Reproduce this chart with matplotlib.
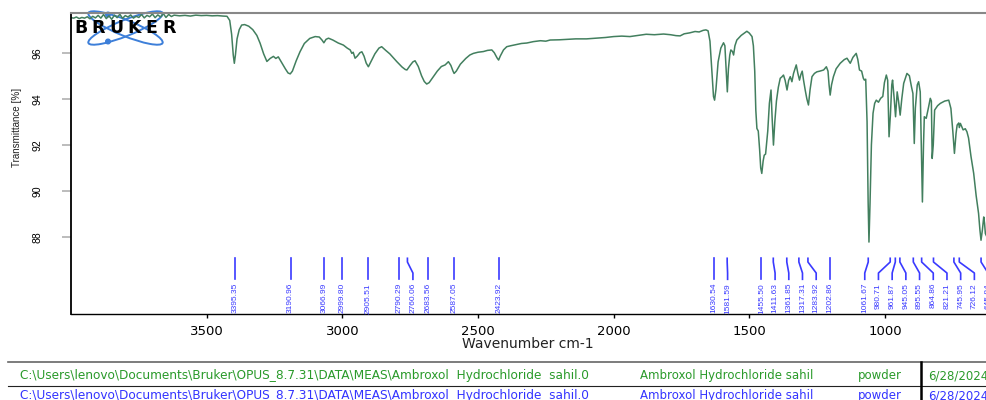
import matplotlib
matplotlib.use("Agg")
import matplotlib.pyplot as plt
import matplotlib.transforms as mtransforms
from matplotlib.patches import Ellipse, Circle
from matplotlib.lines import Line2D
from matplotlib import font_manager as fm

# ---------------- data ----------------
wavenumber = [
    4000, 3990, 3980, 3970, 3960, 3950, 3940, 3930, 3920, 3910, 3900, 3890, 3880, 3870,
    3860, 3850, 3840, 3830, 3820, 3810, 3800, 3790, 3780, 3770, 3760, 3750, 3740, 3730,
    3720, 3710, 3700, 3690, 3680, 3670, 3660, 3650, 3640, 3630, 3620, 3600, 3580, 3560,
    3540, 3520, 3500, 3480, 3460, 3440, 3425, 3415, 3408, 3402, 3398, 3394, 3388, 3380,
    3371, 3360, 3345, 3330, 3315, 3303, 3290, 3278, 3266, 3254, 3245, 3236, 3225, 3210,
    3200, 3192, 3184, 3170, 3156, 3140, 3120, 3100, 3085, 3075, 3068, 3060, 3051, 3035,
    3015, 2996, 2982, 2971, 2965, 2960, 2953, 2945, 2935, 2928, 2920, 2912, 2904, 2895,
    2880, 2865, 2855, 2840, 2825, 2810, 2799, 2790, 2780, 2768, 2762, 2750, 2740, 2732,
    2720, 2708, 2698, 2689, 2680, 2665, 2650, 2635, 2621, 2609, 2600, 2592, 2588, 2580,
    2565, 2545, 2530, 2517, 2500, 2480, 2465, 2449, 2440, 2430, 2424, 2418, 2406, 2394,
    2380, 2360, 2340, 2320, 2296, 2270, 2250, 2234, 2200, 2170, 2140, 2100, 2062, 2030,
    2000, 1970, 1940, 1910, 1880, 1850, 1816, 1790, 1770, 1755, 1740, 1720, 1700, 1685,
    1670, 1660, 1652, 1645, 1638, 1632, 1628, 1623, 1615, 1605, 1595, 1590, 1586, 1581,
    1577, 1572, 1568, 1562, 1558, 1553, 1546, 1530, 1515, 1509, 1500, 1490, 1485, 1480,
    1476, 1472, 1467, 1462, 1458, 1454, 1449, 1445, 1440, 1432, 1426, 1420, 1416, 1411,
    1406, 1400, 1393, 1386, 1380, 1374, 1368, 1361, 1355, 1349, 1343, 1337, 1327, 1321,
    1315, 1310, 1305, 1300, 1294, 1288, 1282, 1276, 1269, 1260, 1251, 1240, 1226, 1216,
    1210, 1206, 1202, 1197, 1190, 1180, 1165, 1150, 1140, 1128, 1118, 1106, 1100, 1094,
    1086, 1080, 1076, 1071, 1066, 1062, 1059, 1055, 1050, 1044, 1038, 1032, 1024, 1016,
    1008, 1002, 995, 990, 985, 980, 975, 972, 966, 961, 955, 950, 944, 938,
    931, 919, 910, 902, 897, 892, 888, 881, 876, 870, 866, 862, 858, 855,
    848, 840, 833, 829, 826, 822, 817, 806, 796, 780, 765, 757, 750, 744,
    738, 734, 728, 726, 722, 712, 704, 698, 692, 683, 673, 664, 655, 650,
    646, 641, 636, 633, 630, 620, 610, 600,
]
transmittance = [
    97.52, 97.50, 97.55, 97.48, 97.53, 97.50, 97.56, 97.47, 97.58, 97.51, 97.62, 97.50, 97.66, 97.48,
    97.60, 97.45, 97.63, 97.52, 97.67, 97.49, 97.61, 97.55, 97.64, 97.50, 97.58, 97.53, 97.66, 97.51,
    97.62, 97.56, 97.68, 97.52, 97.64, 97.55, 97.70, 97.53, 97.66, 97.57, 97.63, 97.60, 97.62, 97.59,
    97.63, 97.61, 97.62, 97.60, 97.61, 97.59, 97.58, 97.40, 96.80, 95.90, 95.54, 95.90, 96.60, 97.00,
    97.20, 97.22, 97.15, 97.00, 96.75, 96.41, 95.95, 95.62, 95.75, 95.84, 95.75, 95.82, 95.60, 95.30,
    95.12, 95.08, 95.20, 95.65, 96.04, 96.40, 96.62, 96.70, 96.68, 96.55, 96.43, 96.58, 96.63, 96.55,
    96.42, 96.33, 96.20, 96.12, 95.97, 96.02, 95.76, 95.85, 96.00, 96.04, 95.85, 95.55, 95.39, 95.60,
    95.95, 96.20, 96.26, 96.10, 95.95, 95.75, 95.61, 95.50, 95.38, 95.27, 95.25, 95.45, 95.60, 95.65,
    95.40, 95.00, 94.75, 94.64, 94.70, 94.95, 95.20, 95.40, 95.47, 95.61, 95.45, 95.20, 95.10, 95.20,
    95.50, 95.75, 95.90, 95.97, 96.02, 96.05, 96.10, 96.12, 96.00, 95.78, 95.68, 95.85, 96.12, 96.26,
    96.30, 96.35, 96.40, 96.42, 96.48, 96.52, 96.50, 96.55, 96.56, 96.58, 96.60, 96.60, 96.63, 96.66,
    96.70, 96.72, 96.70, 96.75, 96.80, 96.78, 96.81, 96.78, 96.74, 96.73, 96.82, 96.86, 96.92, 96.90,
    96.97, 96.99, 96.95, 96.50, 95.20, 94.10, 93.94, 94.40, 95.60, 96.20, 96.43, 96.30, 95.40, 94.30,
    95.30, 95.90, 96.12, 96.05, 95.90, 96.30, 96.55, 96.75, 96.88, 96.93, 96.85, 96.70, 96.30, 95.20,
    93.50, 92.71, 92.60, 91.80, 91.00, 90.76, 91.30, 91.55, 91.60, 92.60, 93.80, 94.38, 93.20, 91.99,
    93.00, 93.90, 94.50, 94.89, 94.95, 95.03, 94.80, 94.38, 94.80, 94.96, 94.74, 95.10, 95.47, 95.10,
    94.81, 95.05, 95.20, 94.80, 94.38, 94.00, 93.73, 94.40, 94.96, 95.10, 95.17, 95.20, 95.25, 95.39,
    95.20, 94.60, 94.16, 94.60, 94.96, 95.30, 95.54, 95.70, 95.76, 95.54, 95.80, 95.97, 95.70, 95.25,
    95.20, 94.90, 94.81, 94.85, 93.00, 89.50, 87.78, 89.50, 92.00, 93.37, 93.80, 93.94, 93.85, 94.02,
    94.10, 94.70, 95.03, 94.80, 92.35, 93.30, 94.60, 94.81, 94.00, 93.22, 94.30, 93.90, 93.29, 94.00,
    94.67, 95.10, 95.00, 94.50, 94.23, 92.06, 93.60, 94.60, 94.74, 94.30, 92.00, 89.52, 92.00, 93.22,
    93.15, 93.60, 94.02, 93.90, 91.41, 92.00, 93.51, 93.70, 93.80, 93.90, 93.94, 93.58, 92.60, 91.63,
    92.50, 92.86, 92.95, 92.75, 92.93, 92.65, 92.70, 92.57, 92.30, 91.50, 90.76, 89.80, 89.02, 88.30,
    87.86, 88.30, 88.87, 88.60, 88.15, 87.90, 87.70, 87.60,
]
peaks = [3395.35, 3190.96, 3066.99, 2999.80, 2905.51, 2790.29, 2760.06, 2683.56, 2587.05,
         2423.92, 1630.54, 1581.59, 1455.50, 1411.63, 1361.85, 1317.31, 1283.92, 1202.86,
         1061.67, 980.71, 961.87, 945.05, 895.55, 864.86, 821.21, 745.95, 726.12, 645.84]
peak_labels = ["%.2f" % p for p in peaks]
xticks = [3500, 3000, 2500, 2000, 1500, 1000]
yticks = [88, 90, 92, 94, 96]
file_path = r"C:\Users\lenovo\Documents\Bruker\OPUS_8.7.31\DATA\MEAS\Ambroxol  Hydrochloride  sahil.0"
sample_name = "Ambroxol Hydrochloride sahil"
sample_form = "powder"
sample_date = "6/28/2024"

# ---------------- fonts ----------------
names = {f.name for f in fm.fontManager.ttflist}
if "Liberation Sans Narrow" in names:
    NARROW = ["Liberation Sans Narrow", "DejaVu Sans"]
    s_peak, s_ytick, s_ylab = 6.9, 8.0, 8.6
elif "Liberation Sans" in names:
    NARROW = ["Liberation Sans", "DejaVu Sans"]
    s_peak, s_ytick, s_ylab = 6.0, 7.5, 7.1
else:
    NARROW = ["DejaVu Sans"]
    s_peak, s_ytick, s_ylab = 5.2, 6.8, 6.3
plt.rcParams["font.family"] = ["DejaVu Sans"]

W, H = 986, 400
fig = plt.figure(figsize=(W / 100, H / 100), dpi=100)

# ---------------- logo (behind the plot) ----------------
lax = fig.add_axes([70 / W, 1 - 46 / H, 112 / W, 36 / H])
lax.set_xlim(70, 182)
lax.set_ylim(46, 10)
lax.axis("off")
logo_blue = "#3d7fd9"
for ang in (22, -22):
    lax.add_patch(Ellipse((125.5, 28), 80, 16, angle=ang, fill=False,
                          edgecolor=logo_blue, lw=1.4))
lax.add_patch(Circle((108, 14.5), 2.3, color=logo_blue))
lax.add_patch(Circle((108, 41.5), 2.3, color=logo_blue))
for i, ch in enumerate("BRUKER"):
    lax.text(72 + 106 / 6 * (i + 0.5), 28, ch, ha="center", va="center",
             fontsize=12.5, fontweight="heavy", color="black")

# ---------------- main axes ----------------
ax = fig.add_axes([71 / W, 1 - 314.3 / H, (993.5 - 71) / W, (314.3 - 12.7) / H])
ax.patch.set_alpha(0)
ax.plot(wavenumber, transmittance, color="#427f5e", lw=1.1)
ax.set_xlim(4000, 600)
ax.set_ylim(84.645, 97.736)
ax.set_xticks(xticks)
ax.set_xticklabels([str(t) for t in xticks])
ax.set_yticks(yticks)
ax.set_yticklabels([str(t) for t in yticks], rotation=90, va="center",
                   family=NARROW, fontsize=s_ytick)
ax.tick_params(axis="y", length=6.5, width=1.2, color="#b0b0b0", pad=14)
ax.tick_params(axis="x", length=3.2, width=1.0, color="black", pad=4.5, labelsize=9.5)
ax.spines["right"].set_visible(False)
ax.spines["top"].set_color("#888888")
ax.spines["top"].set_linewidth(1.5)
ax.spines["left"].set_linewidth(1.3)
ax.spines["bottom"].set_linewidth(1.0)

# ---------------- peak labels ----------------
gap = 50.5
label_limit = 620.0
pos = list(peaks)
for i in range(1, len(pos)):
    pos[i] = min(peaks[i], pos[i - 1] - gap)
pos[-1] = max(pos[-1], label_limit)
for i in range(len(pos) - 2, -1, -1):
    pos[i] = max(pos[i], pos[i + 1] + gap)

trans = mtransforms.blended_transform_factory(ax.transData, ax.transAxes)
pk_blue = "#3a3aff"
for p, q, lab in zip(peaks, pos, peak_labels):
    ax.plot([p, p, q, q], [0.1857, 0.1734, 0.1369, 0.1160], transform=trans,
            color=pk_blue, lw=1.2, clip_on=False)
    ax.text(q, 0.1040, lab, transform=trans, rotation=90, ha="center", va="top",
            color=pk_blue, fontsize=s_peak, family=NARROW, clip_on=False)

# ---------------- axis labels ----------------
fig.text(528 / W, 1 - 344 / H, "Wavenumber cm-1", ha="center", va="center",
         fontsize=10, color="#222222")
fig.text(17 / W, 1 - 127.5 / H, "Transmittance [%]", ha="center", va="center",
         rotation=90, fontsize=s_ylab, family=NARROW, color="#222222")

# ---------------- bottom table ----------------
fig.add_artist(Line2D([8 / W, 1], [1 - 362.3 / H] * 2, color="#666666", lw=1.2))
fig.add_artist(Line2D([8 / W, 1], [1 - 385.5 / H] * 2, color="#222222", lw=0.8))
fig.add_artist(Line2D([920.7 / W] * 2, [1 - 362.3 / H, 0], color="black", lw=1.8))
for yy, col in ((375.7, "#2a9a2a"), (395.7, "#3333ff")):
    fig.text(20 / W, 1 - yy / H, file_path, ha="left", va="center", fontsize=8.7, color=col)
    fig.text(640 / W, 1 - yy / H, sample_name, ha="left", va="center", fontsize=8.5, color=col)
    fig.text(858 / W, 1 - yy / H, sample_form, ha="left", va="center", fontsize=8.5, color=col)
    fig.text(927.7 / W, 1 - yy / H, sample_date, ha="left", va="center", fontsize=8.5, color=col)

fig.savefig("out.png", dpi=100)
